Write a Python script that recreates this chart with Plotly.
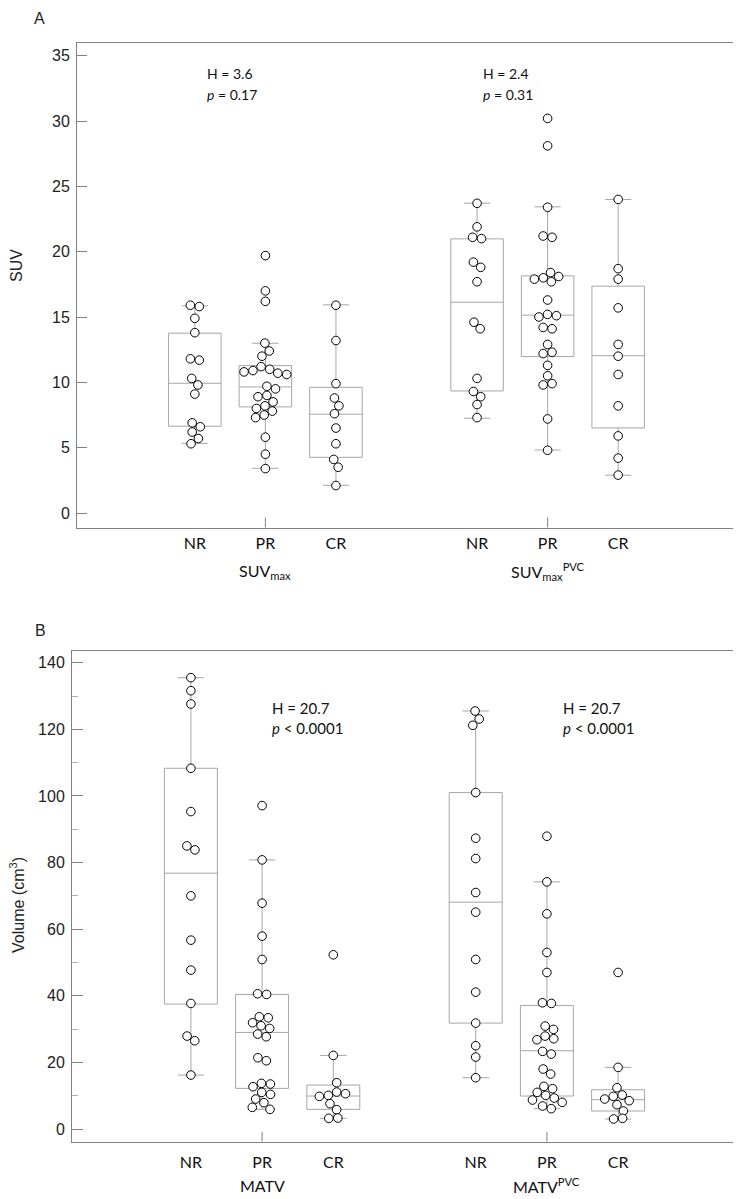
import math
import plotly.graph_objects as go

# ---------------- data ----------------
groups = ["NR", "PR", "CR"]
positions_a = [0, 1, 2]
positions_b = [4, 5, 6]

# Panel A: SUV
suvmax_nr = [15.9, 15.8, 14.9, 13.8, 11.8, 11.7, 10.3, 9.8, 9.1, 6.9, 6.6, 6.2, 5.7, 5.3]
suvmax_pr = [19.7, 17.0, 16.2, 13.0, 12.4, 12.0, 11.2, 11.0, 10.9, 10.8, 10.7, 10.6, 9.7, 9.5,
             9.0, 8.9, 8.5, 8.2, 8.0, 7.8, 7.5, 7.3, 5.8, 4.5, 3.4]
suvmax_cr = [15.9, 13.2, 9.9, 8.8, 8.2, 7.6, 6.5, 5.3, 4.1, 3.5, 2.1]
suvpvc_nr = [23.7, 21.9, 21.1, 21.0, 19.2, 18.8, 17.7, 14.6, 14.1, 10.3, 9.3, 8.9, 8.3, 7.3]
suvpvc_pr = [30.2, 28.1, 23.4, 21.2, 21.1, 18.4, 18.1, 18.0, 17.9, 17.7, 16.3, 15.2, 15.1, 15.0,
             14.2, 14.1, 12.9, 12.3, 12.2, 11.3, 10.5, 9.9, 9.8, 7.2, 4.8]
suvpvc_cr = [24.0, 18.7, 17.9, 15.7, 12.9, 12.0, 10.6, 8.2, 5.9, 4.2, 2.9]

# box statistics (q1, median, q3, lower whisker, upper whisker)
suvmax_q1 = [6.64, 8.12, 4.26]
suvmax_med = [9.93, 9.65, 7.56]
suvmax_q3 = [13.76, 11.28, 9.62]
suvmax_lo = [5.33, 3.42, 2.12]
suvmax_hi = [15.85, 12.99, 15.93]
suvpvc_q1 = [9.34, 11.97, 6.51]
suvpvc_med = [16.13, 15.14, 12.04]
suvpvc_q3 = [20.98, 18.15, 17.36]
suvpvc_lo = [7.25, 4.82, 2.89]
suvpvc_hi = [23.71, 23.43, 23.99]

# Panel B: volume
matv_nr = [135.5, 131.6, 127.6, 108.3, 95.3, 85.0, 83.8, 70.0, 56.7, 47.7, 37.7, 27.9, 26.5, 16.2]
matv_pr = [97.1, 80.8, 67.8, 57.9, 50.9, 40.6, 40.4, 33.7, 33.4, 31.9, 31.0, 30.2, 28.5, 27.7,
           21.4, 20.5, 13.7, 13.5, 12.7, 11.0, 10.4, 9.0, 7.9, 6.5, 5.9]
matv_cr = [52.3, 22.1, 13.9, 11.1, 10.6, 10.1, 9.8, 7.6, 5.8, 3.3, 3.2]
matvpvc_nr = [125.5, 123.1, 121.2, 101.0, 87.3, 81.2, 71.0, 65.1, 50.9, 41.1, 31.8, 25.0, 21.6, 15.4]
matvpvc_pr = [87.9, 74.2, 64.6, 53.0, 47.0, 37.9, 37.7, 30.9, 29.9, 27.9, 27.1, 26.8, 23.3, 22.5,
              18.0, 16.5, 12.8, 12.1, 11.0, 10.1, 9.3, 8.7, 8.0, 6.9, 6.1]
matvpvc_cr = [47.0, 18.5, 12.4, 10.2, 9.8, 9.0, 8.5, 7.3, 5.4, 3.2, 3.0]

matv_q1 = [37.5, 12.2, 5.9]
matv_med = [76.8, 29.0, 9.9]
matv_q3 = [108.3, 40.4, 13.2]
matv_lo = [16.2, 5.9, 3.2]
matv_hi = [135.5, 80.8, 22.1]
matvpvc_q1 = [31.8, 9.9, 5.4]
matvpvc_med = [68.1, 23.5, 8.8]
matvpvc_q3 = [101.0, 37.1, 11.8]
matvpvc_lo = [15.4, 6.1, 3.0]
matvpvc_hi = [125.5, 74.2, 18.5]

stats_a = ["H = 3.6", "H = 2.4"]
pvals_a = ["<i>p</i> = 0.17", "<i>p</i> = 0.31"]
stats_b = ["H = 20.7", "H = 20.7"]
pvals_b = ["<i>p</i> < 0.0001", "<i>p</i> < 0.0001"]
group_labels_a = ["SUV<sub>max</sub>", "SUV<sub>max</sub><sup>PVC</sup>"]
group_labels_b = ["MATV", "MATV<sup>PVC</sup>"]

# ---------------- layout geometry (page pixels) ----------------
OFF = 8                      # default page margin of the html body
W, H = 741 - OFF, 1199 - OFF
A_left, A_right, A_top, A_bot = 77, 736, 43, 527.5
B_left, B_right, B_top, B_bot = 72, 737, 650.7, 1141.7
XR = [-1.67, 7.67]
YR_A = [-1.11, 35.97]
YR_B = [-3.81, 143.6]


def py(px):
    return 1 - (px - OFF) / H


def px_x(px):
    return (px - OFF) / W


A_xunit = (A_right - A_left) / (XR[1] - XR[0])
B_xunit = (B_right - B_left) / (XR[1] - XR[0])
A_yunit = (A_bot - A_top) / (YR_A[1] - YR_A[0])
B_yunit = (B_bot - B_top) / (YR_B[1] - YR_B[0])


def swarm_offsets(vals, ypx, xpx, D=9.0):
    n = len(vals)
    order = sorted(range(n), key=lambda i: -vals[i])
    placed = {}
    for i in order:
        y = vals[i] * ypx
        cands = [0.0]
        for (px, pyy) in placed.values():
            dy = abs(y - pyy)
            if dy < D:
                dx = math.sqrt(D * D - dy * dy)
                cands += [px + dx, px - dx]
        cands.sort(key=abs)
        for c in cands:
            if all((c - px) ** 2 + (y - pyy) ** 2 >= D * D - 1e-6 for px, pyy in placed.values()):
                placed[i] = (c, y)
                break
    parent = {i: i for i in placed}

    def find(a):
        while parent[a] != a:
            parent[a] = parent[parent[a]]
            a = parent[a]
        return a

    keys = list(placed)
    for a in keys:
        for b in keys:
            if a < b:
                d = math.hypot(placed[a][0] - placed[b][0], placed[a][1] - placed[b][1])
                if d < D + 0.5:
                    parent[find(a)] = find(b)
    clusters = {}
    for k in keys:
        clusters.setdefault(find(k), []).append(k)
    out = [0.0] * n
    for mem in clusters.values():
        m = sum(placed[k][0] for k in mem) / len(mem)
        for k in mem:
            out[k] = (placed[k][0] - m) / xpx
    return out


fig = go.Figure()

BOX_COL = "#a6a6a6"
FRAME_COL = "#808080"
BOX_W = 0.744


def add_panel(pos, datasets, q1, med, q3, lo, hi, xa, ya, ypx, xpx):
    fig.add_trace(go.Box(
        x=pos, q1=q1, median=med, q3=q3, lowerfence=lo, upperfence=hi,
        width=BOX_W, whiskerwidth=0.5, boxpoints=False,
        fillcolor="rgba(0,0,0,0)", line=dict(color=BOX_COL, width=1),
        xaxis=xa, yaxis=ya, showlegend=False, hoverinfo="skip"))
    for p, vals in zip(pos, datasets):
        offs = swarm_offsets(vals, ypx, xpx)
        fig.add_trace(go.Scatter(
            x=[p + o for o in offs], y=vals, mode="markers",
            marker=dict(size=8.6, color="white", line=dict(color="black", width=1)),
            xaxis=xa, yaxis=ya, showlegend=False, cliponaxis=False))


add_panel(positions_a, [suvmax_nr, suvmax_pr, suvmax_cr], suvmax_q1, suvmax_med, suvmax_q3,
          suvmax_lo, suvmax_hi, "x", "y", A_yunit, A_xunit)
add_panel(positions_b, [suvpvc_nr, suvpvc_pr, suvpvc_cr], suvpvc_q1, suvpvc_med, suvpvc_q3,
          suvpvc_lo, suvpvc_hi, "x", "y", A_yunit, A_xunit)
add_panel(positions_a, [matv_nr, matv_pr, matv_cr], matv_q1, matv_med, matv_q3,
          matv_lo, matv_hi, "x2", "y2", B_yunit, B_xunit)
add_panel(positions_b, [matvpvc_nr, matvpvc_pr, matvpvc_cr], matvpvc_q1, matvpvc_med, matvpvc_q3,
          matvpvc_lo, matvpvc_hi, "x2", "y2", B_yunit, B_xunit)

cat_font = dict(family="Lato", size=16, color="#111111")
num_font = dict(family="Liberation Sans", size=16, color="#222222")

xcommon = dict(range=XR, tickvals=positions_a + positions_b, ticktext=groups + groups,
               ticks="", showline=True, linecolor=FRAME_COL, linewidth=1, mirror=True,
               showgrid=False, zeroline=False, tickfont=cat_font, automargin=False)
fig.update_layout(
    width=W, height=H, margin=dict(l=0, r=0, t=0, b=0),
    paper_bgcolor="white", plot_bgcolor="white",
    xaxis=dict(domain=[px_x(A_left), px_x(A_right)], anchor="y", ticklabelstandoff=1, **xcommon),
    yaxis=dict(domain=[py(A_bot), py(A_top)], anchor="x", range=YR_A,
               tickvals=[0, 5, 10, 15, 20, 25, 30, 35], ticks="inside", ticklen=10,
               tickcolor=FRAME_COL, showline=True, linecolor=FRAME_COL, linewidth=1,
               mirror=True, showgrid=False, zeroline=False, tickfont=num_font,
               ticklabelstandoff=3, automargin=False),
    xaxis2=dict(domain=[px_x(B_left), px_x(B_right)], anchor="y2", ticklabelstandoff=6, **xcommon),
    yaxis2=dict(domain=[py(B_bot), py(B_top)], anchor="x2", range=YR_B,
                tickvals=[0, 20, 40, 60, 80, 100, 120, 140], ticks="inside", ticklen=11,
                tickcolor=FRAME_COL, showline=True, linecolor=FRAME_COL, linewidth=1,
                mirror=True, showgrid=False, zeroline=False, tickfont=num_font,
                ticklabelstandoff=3, automargin=False,
                minor=dict(dtick=10, tick0=0, ticks="inside", ticklen=6, tickcolor="#b0b0b0")),
)

# small tick marks at the group centres on the bottom axis
for xa, yd in (("x", "y domain"), ("x2", "y2 domain")):
    hpx = (A_bot - A_top) if xa == "x" else (B_bot - B_top)
    for c in (positions_a[1], positions_b[1]):
        fig.add_shape(type="line", xref=xa, yref=yd, x0=c, x1=c, y0=0, y1=10 / hpx,
                      line=dict(color=FRAME_COL, width=1))

ann = []
lbl_font = dict(family="Lato", size=16, color="#111111")
for c, t in zip((positions_a[1], positions_b[1]), group_labels_a):
    ann.append(dict(x=c, xref="x", y=py(572), yref="paper", text=t, showarrow=False,
                    font=lbl_font, xanchor="center", yanchor="middle"))
for c, t in zip((positions_a[1], positions_b[1]), group_labels_b):
    ann.append(dict(x=c, xref="x2", y=py(1185), yref="paper", text=t, showarrow=False,
                    font=lbl_font, xanchor="center", yanchor="middle"))

st_font_a = dict(family="Lato", size=14, color="#111111")
st_font_b = dict(family="Lato", size=15, color="#111111")
for xl, h, p in zip((205, 481), stats_a, pvals_a):
    ann.append(dict(x=px_x(xl), xref="paper", y=py(73), yref="paper", text=h, showarrow=False,
                    font=st_font_a, xanchor="left", yanchor="middle"))
    ann.append(dict(x=px_x(xl), xref="paper", y=py(95), yref="paper", text=p, showarrow=False,
                    font=st_font_a, xanchor="left", yanchor="middle"))
for xl, h, p in zip((270, 561), stats_b, pvals_b):
    ann.append(dict(x=px_x(xl), xref="paper", y=py(708), yref="paper", text=h, showarrow=False,
                    font=st_font_b, xanchor="left", yanchor="middle"))
    ann.append(dict(x=px_x(xl), xref="paper", y=py(728), yref="paper", text=p, showarrow=False,
                    font=st_font_b, xanchor="left", yanchor="middle"))

ax_font = dict(family="Liberation Sans", size=16, color="#222222")
ann.append(dict(x=px_x(16), xref="paper", y=py(266), yref="paper", text="SUV", textangle=-90,
                showarrow=False, font=ax_font, xanchor="center", yanchor="middle"))
ann.append(dict(x=px_x(17), xref="paper", y=py(905), yref="paper", text="Volume (cm<sup>3</sup>)",
                textangle=-90, showarrow=False, font=ax_font, xanchor="center", yanchor="middle"))
ann.append(dict(x=px_x(39), xref="paper", y=py(8), yref="paper", text="A", showarrow=False,
                font=ax_font, xanchor="center", yanchor="top"))
ann.append(dict(x=px_x(40), xref="paper", y=py(630), yref="paper", text="B", showarrow=False,
                font=ax_font, xanchor="center", yanchor="middle"))

fig.update_layout(annotations=ann)
fig.write_html("out.html")
